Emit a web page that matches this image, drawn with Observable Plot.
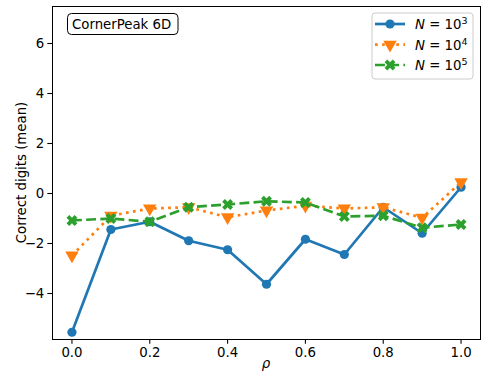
<!DOCTYPE html>
<html>
<head>
<meta charset="utf-8">
<script src="https://cdn.jsdelivr.net/npm/d3@7"></script>
<script src="https://cdn.jsdelivr.net/npm/@observablehq/plot@0.6"></script>
<style>
  html, body { margin: 0; padding: 0; background: #fff; }
  #chart svg { display: block; }
</style>
</head>
<body>
<div id="chart"></div>
<script>
const rho = [0.0, 0.1, 0.2, 0.3, 0.4, 0.5, 0.6, 0.7, 0.8, 0.9, 1.0];
const n1e3 = [-5.55, -1.44, -1.13, -1.89, -2.25, -3.63, -1.83, -2.44, -0.55, -1.59, 0.25];
const n1e4 = [-2.48, -0.89, -0.60, -0.55, -0.95, -0.68, -0.49, -0.60, -0.55, -0.97, 0.45];
const n1e5 = [-1.08, -1.00, -1.13, -0.55, -0.44, -0.31, -0.36, -0.92, -0.89, -1.37, -1.24];
const seriesExp = ["3", "4", "5"];
const xTicks = [0.0, 0.2, 0.4, 0.6, 0.8, 1.0];
const yTicks = [-4, -2, 0, 2, 4, 6];
const title = "CornerPeak 6D";
const yLabel = "Correct digits (mean)";
const xLabel = "ρ";

const colors = ["#1f77b4", "#ff7f0e", "#2ca02c"];
const dashes = [null, "2.7,4.4", "9.9,4.3"];
const values = [n1e3, n1e4, n1e5];

const filledX = {
  draw(ctx, size) {
    const r = Math.sqrt(size / Math.PI);
    const L = r * 1.25, w = r * 0.42;
    const pts = [[w,w],[w,L],[-w,L],[-w,w],[-L,w],[-L,-w],[-w,-w],[-w,-L],[w,-L],[w,-w],[L,-w],[L,w]];
    const c = Math.SQRT1_2;
    pts.forEach(([x, y], i) => {
      const X = (x - y) * c, Y = (x + y) * c;
      if (i === 0) ctx.moveTo(X, Y); else ctx.lineTo(X, Y);
    });
    ctx.closePath();
  }
};
const symbols = ["circle", "triangle", filledX];
const rots = [0, 180, 0];
const radii = [4.6, 5.0, 4.6];

const data = values.map((vals, s) => rho.map((r, i) => ({rho: r, v: vals[i], s})));

const marks = [];
data.forEach((d, s) => {
  marks.push(Plot.line(d, {x: "rho", y: "v", stroke: colors[s], strokeWidth: 2.7,
    strokeDasharray: dashes[s] || undefined, strokeLinecap: "butt", strokeLinejoin: "round"}));
  marks.push(Plot.dot(d, {x: "rho", y: "v", fill: colors[s], stroke: "none",
    symbol: symbols[s], r: radii[s], rotate: rots[s]}));
});
marks.push(Plot.frame({stroke: "black", strokeWidth: 1}));

const W = 482, H = 379;
const chart = Plot.plot({
  width: W, height: H,
  marginLeft: 52, marginRight: 2, marginTop: 6, marginBottom: 40,
  style: {fontFamily: "DejaVu Sans", fontSize: "13.3px", background: "white", color: "black"},
  x: {domain: [-0.05, 1.05], ticks: xTicks, tickFormat: d => d.toFixed(1), label: null, tickSize: 4.7, tickPadding: 3.5},
  y: {domain: [-5.84, 7.48], ticks: yTicks, label: null, tickSize: 4.7, tickPadding: 3.5},
  marks
});
document.getElementById("chart").appendChild(chart);

const svg = d3.select(chart);
svg.selectAll("[aria-label='x-axis tick'], [aria-label='y-axis tick']").attr("stroke-width", 1.07);

// y label
svg.append("text")
  .attr("transform", "translate(21,172.5) rotate(-90)")
  .attr("text-anchor", "middle").attr("dy", "0.35em")
  .attr("font-family", "DejaVu Sans").attr("font-size", 13.3)
  .text(yLabel);
// x label
svg.append("text")
  .attr("x", 266).attr("y", 368)
  .attr("text-anchor", "middle")
  .attr("font-family", "DejaVu Sans").attr("font-style", "italic").attr("font-size", 13.3)
  .text(xLabel);

// title box
const tb = svg.append("g");
tb.append("rect").attr("x", 67.5).attr("y", 13.5).attr("width", 110.5).attr("height", 21)
  .attr("rx", 4).attr("fill", "white").attr("stroke", "black").attr("stroke-width", 1);
tb.append("text").attr("x", 72).attr("y", 28.5).attr("text-anchor", "start")
  .attr("font-family", "DejaVu Sans").attr("font-size", 13.3).text(title);

// legend
const lg = svg.append("g");
lg.append("rect").attr("x", 372).attr("y", 13).attr("width", 101).attr("height", 66)
  .attr("rx", 3).attr("fill", "white").attr("fill-opacity", 0.8)
  .attr("stroke", "#cccccc").attr("stroke-width", 1);
const rowY = [24, 44.7, 65];
const symGen = (s) => d3.symbol().type(typeof symbols[s] === "string"
  ? (symbols[s] === "circle" ? d3.symbolCircle : d3.symbolTriangle) : symbols[s])
  .size(Math.PI * radii[s] * radii[s]);
seriesExp.forEach((e, s) => {
  const y = rowY[s];
  lg.append("line").attr("x1", 375).attr("x2", 405).attr("y1", y).attr("y2", y)
    .attr("stroke", colors[s]).attr("stroke-width", 2.7)
    .attr("stroke-dasharray", dashes[s]);
  lg.append("path").attr("d", symGen(s)())
    .attr("transform", `translate(390,${y}) rotate(${rots[s]})`)
    .attr("fill", colors[s]);
  const t = lg.append("text").attr("x", 415).attr("y", y).attr("dy", "0.38em")
    .attr("text-anchor", "start")
    .attr("font-family", "DejaVu Sans").attr("font-size", 13.3);
  t.append("tspan").attr("font-style", "italic").text("N");
  t.append("tspan").text(" = 10");
  t.append("tspan").attr("font-size", 9.5).attr("dy", "-0.55em").text(e);
});
</script>
</body>
</html>
